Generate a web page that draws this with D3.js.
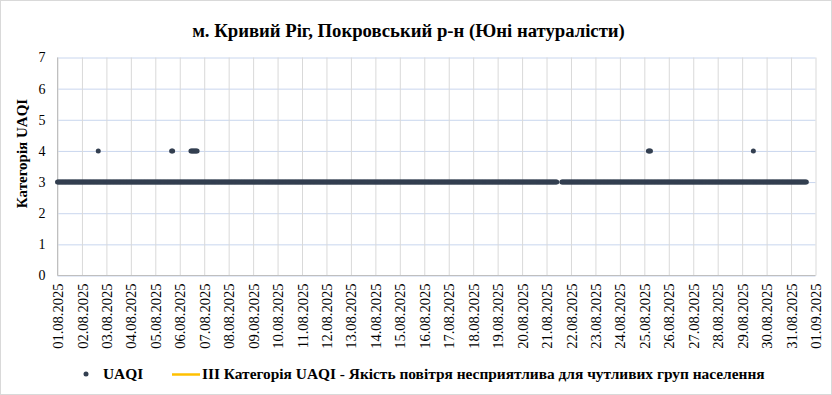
<!DOCTYPE html>
<html>
<head>
<meta charset="utf-8">
<script src="https://cdn.jsdelivr.net/npm/d3@7"></script>
</head>
<body style="margin:0">
<svg width="832" height="395" id="chart" font-family="Liberation Serif"></svg>
<script>
var title = 'м. Кривий Ріг, Покровський р-н (Юні натуралісти)';
var yTitle = 'Категорія UAQI';
var seriesNames = ['UAQI', 'ІІІ Категорія UAQI - Якість повітря несприятлива для чутливих груп населення'];

var days = ['01.08.2025', '02.08.2025', '03.08.2025', '04.08.2025', '05.08.2025', '06.08.2025',
  '07.08.2025', '08.08.2025', '09.08.2025', '10.08.2025', '11.08.2025', '12.08.2025',
  '13.08.2025', '14.08.2025', '15.08.2025', '16.08.2025', '17.08.2025', '18.08.2025',
  '19.08.2025', '20.08.2025', '21.08.2025', '22.08.2025', '23.08.2025', '24.08.2025',
  '25.08.2025', '26.08.2025', '27.08.2025', '28.08.2025', '29.08.2025', '30.08.2025',
  '31.08.2025'];
var xTickLabels = days.concat(['01.09.2025']);
var yTicks = [0, 1, 2, 3, 4, 5, 6, 7];

// hourly UAQI category, one string per day, hours 00..23, '-' = no data
var hourly = [
  '333333333333333333333333',
  '333333333333333333333333',
  '333333333333333333333333',
  '333333333333333333333333',
  '333333333333333333333333',
  '333333333333333333333333',
  '333333333333333333333333',
  '333333333333333333333333',
  '333333333333333333333333',
  '333333333333333333333333',
  '333333333333333333333333',
  '333333333333333333333333',
  '333333333333333333333333',
  '333333333333333333333333',
  '333333333333333333333333',
  '333333333333333333333333',
  '333333333333333333333333',
  '333333333333333333333333',
  '333333333333333333333333',
  '333333333333333333333333',
  '33333333333----333333333',
  '333333333333333333333333',
  '333333333333333333333333',
  '333333333333333333333333',
  '333333333333333333333333',
  '333333333333333333333333',
  '333333333333333333333333',
  '333333333333333333333333',
  '333333333333333333333333',
  '333333333333333333333333',
  '3333333333333333--------'
];

// readings at category 4 (day, hour)
var elevatedDays = ['02.08.2025', '05.08.2025', '05.08.2025', '06.08.2025', '06.08.2025',
  '06.08.2025', '06.08.2025', '06.08.2025', '06.08.2025', '06.08.2025', '25.08.2025',
  '25.08.2025', '25.08.2025', '29.08.2025'];
var elevatedHours = [16, 16, 17, 11, 12, 13, 14, 15, 16, 17, 4, 5, 6, 11];
var elevatedValue = 4;

(function() {
  var WIDTH = 832, HEIGHT = 395;
  var parseDay = d3.utcParse('%d.%m.%Y');
  var fmt = d3.utcFormat('%d.%m.%Y');

  var points = [];
  days.forEach(function(day, i) {
    var base = parseDay(day);
    hourly[i].split('').forEach(function(c, h) {
      if (c === '-') return;
      points.push({ date: d3.utcHour.offset(base, h), value: +c });
    });
  });
  elevatedDays.forEach(function(day, i) {
    points.push({ date: d3.utcHour.offset(parseDay(day), elevatedHours[i]), value: elevatedValue });
  });

  var svg = d3.select('#chart');

  function serif(sel) {
    return sel.style('font-family', '"Liberation Serif"');
  }

  svg.append('rect')
    .attr('x', 0.5).attr('y', 0.5)
    .attr('width', WIDTH - 1).attr('height', HEIGHT - 1)
    .style('fill', '#fff')
    .style('stroke', '#d9d9d9');

  var left = 57.5, right = 815.5, top = 57.5, bottom = 275.5;

  var x = d3.scaleUtc()
    .domain([parseDay(xTickLabels[0]), parseDay(xTickLabels[xTickLabels.length - 1])])
    .range([left, right]);
  var y = d3.scaleLinear()
    .domain([0, 7])
    .range([bottom, top]);

  // horizontal grid
  svg.append('g')
    .attr('transform', 'translate(' + left + ',0)')
    .call(d3.axisLeft(y).tickValues(yTicks).tickSize(-(right - left)).tickFormat(''))
    .call(function(g) {
      g.select('.domain').remove();
      g.selectAll('line').style('stroke', '#c9d6ee');
    });

  // vertical grid
  svg.append('g')
    .attr('transform', 'translate(0,' + bottom + ')')
    .call(d3.axisBottom(x).tickValues(xTickLabels.map(parseDay)).tickSize(-(bottom - top)).tickFormat(''))
    .call(function(g) {
      g.select('.domain').remove();
      g.selectAll('line').style('stroke', '#d9d9d9');
    });

  // axis lines
  svg.append('line')
    .attr('x1', left).attr('x2', left).attr('y1', top).attr('y2', bottom)
    .style('stroke', '#bfbfbf');
  svg.append('line')
    .attr('x1', left).attr('x2', right).attr('y1', bottom).attr('y2', bottom)
    .style('stroke', '#bfbfbf');

  // y tick labels
  svg.append('g')
    .attr('transform', 'translate(' + left + ',0)')
    .call(d3.axisLeft(y).tickValues(yTicks).tickSize(0).tickPadding(12).tickFormat(d3.format('d')))
    .call(function(g) {
      g.select('.domain').remove();
      g.attr('font-family', 'Liberation Serif');
      g.selectAll('text')
        .call(serif)
        .style('font-size', '14px')
        .style('fill', '#000');
    });

  // x tick labels
  svg.append('g')
    .attr('transform', 'translate(0,' + bottom + ')')
    .call(d3.axisBottom(x).tickValues(xTickLabels.map(parseDay)).tickSize(0).tickFormat(fmt))
    .call(function(g) {
      g.select('.domain').remove();
      g.attr('font-family', 'Liberation Serif');
      g.selectAll('text')
        .attr('transform', 'rotate(-90)')
        .attr('x', -8)
        .attr('y', 0)
        .attr('dy', '0.35em')
        .style('text-anchor', 'end')
        .call(serif)
        .style('font-size', '14.5px')
        .style('fill', '#000');
    });

  // UAQI points
  svg.append('g')
    .selectAll('circle')
    .data(points)
    .enter()
      .append('circle')
      .attr('cx', function(d) { return x(d.date); })
      .attr('cy', function(d) { return y(d.value); })
      .attr('r', 2.5)
      .style('fill', '#333f50');

  // title
  svg.append('text')
    .attr('x', 408.5)
    .attr('y', 37)
    .attr('text-anchor', 'middle')
    .call(serif)
    .style('font-size', '18.7px')
    .style('font-weight', 'bold')
    .text(title);

  // y title
  svg.append('text')
    .attr('transform', 'translate(27,' + ((top + bottom) / 2 - 13) + ') rotate(-90)')
    .attr('text-anchor', 'middle')
    .call(serif)
    .style('font-size', '15px')
    .style('font-weight', 'bold')
    .text(yTitle);

  // legend
  var legend = svg.append('g').attr('transform', 'translate(0,374)');
  legend.append('circle')
    .attr('cx', 86).attr('cy', 0).attr('r', 2.5)
    .style('fill', '#333f50');
  legend.append('text')
    .attr('x', 103).attr('y', 0).attr('dy', '0.35em')
    .call(serif)
    .style('font-size', '15.4px').style('font-weight', 'bold')
    .text(seriesNames[0]);
  legend.append('line')
    .attr('x1', 172).attr('x2', 200).attr('y1', 0.5).attr('y2', 0.5)
    .style('stroke', '#ffc000').style('stroke-width', 2.5);
  legend.append('text')
    .attr('x', 202).attr('y', 0).attr('dy', '0.35em')
    .call(serif)
    .style('font-size', '15.4px').style('font-weight', 'bold')
    .text(seriesNames[1]);
})();
</script>
</body>
</html>
